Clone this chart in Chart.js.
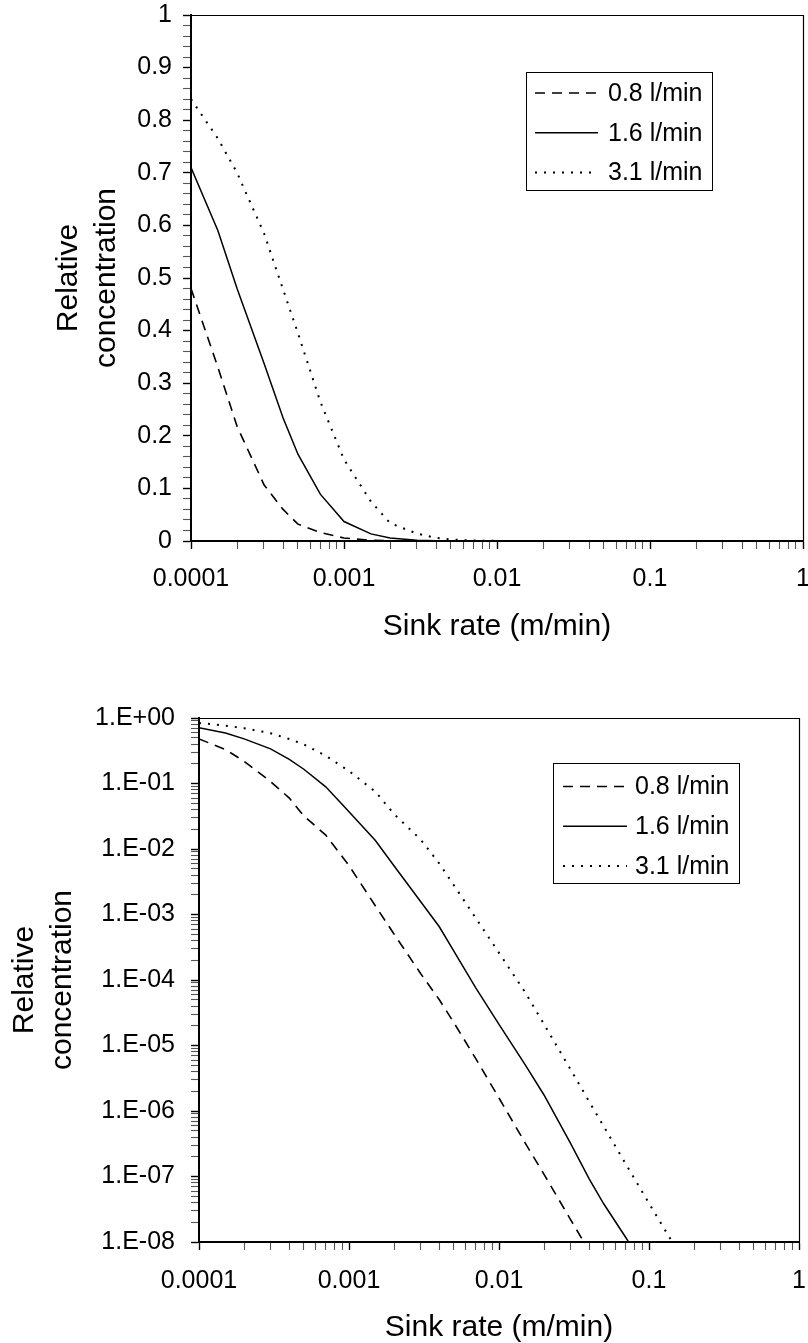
<!DOCTYPE html>
<html><head><meta charset="utf-8">
<script src="https://cdn.jsdelivr.net/npm/chart.js@4.4.0/dist/chart.umd.min.js"></script>
<style>
html,body{margin:0;padding:0;background:#fff;overflow:hidden;width:808px;height:1343px;}
canvas{position:absolute;left:0;}
#c1{top:0;}
#c2{top:660px;}
</style></head><body>
<canvas id="c1" width="808" height="660"></canvas>
<canvas id="c2" width="808" height="683"></canvas>
<script>
// ---------- data ----------
const sinkRate = [0.0001, 0.00015, 0.0002, 0.0003, 0.0004, 0.0005, 0.0007, 0.001, 0.0015, 0.002, 0.003, 0.004, 0.005, 0.007, 0.01, 0.015, 0.02, 0.03, 0.04, 0.05, 0.07, 0.1, 0.15, 0.2];
const conc08 = [0.48, 0.33, 0.218, 0.107, 0.06, 0.032, 0.0163, 0.0056, 1.35e-3, 5.0e-4, 1.26e-4, 5.0e-5, 2.24e-5, 6.3e-6, 1.58e-6, 3.2e-7, 1.07e-7, 2.2e-8, 7.2e-9, 3.2e-9, null, null, null, null];
const conc16 = [0.71, 0.59, 0.48, 0.338, 0.234, 0.165, 0.089, 0.037, 0.0135, 5.5e-3, 1.58e-3, 6.5e-4, 2.75e-4, 7.6e-5, 2.1e-5, 5.0e-6, 1.74e-6, 3.2e-7, 9.1e-8, 3.8e-8, 1.17e-8, 3.2e-9, null, null];
const conc31 = [0.84, 0.765, 0.70, 0.585, 0.478, 0.395, 0.265, 0.155, 0.075, 0.034, 0.014, 0.006, 2.8e-3, 8.8e-4, 2.6e-4, 6.4e-5, 2.1e-5, 4.3e-6, 1.38e-6, 5.8e-7, 1.55e-7, 3.9e-8, 8.3e-9, 2.75e-9];
const seriesLabels = ['0.8 l/min', '1.6 l/min', '3.1 l/min'];

const xMajorTicks = [0.0001, 0.001, 0.01, 0.1, 1];
const xTickLabels = ['0.0001', '0.001', '0.01', '0.1', '1'];
const linYMajorTicks = [0, 0.1, 0.2, 0.3, 0.4, 0.5, 0.6, 0.7, 0.8, 0.9, 1];
const linYTickLabels = ['0', '0.1', '0.2', '0.3', '0.4', '0.5', '0.6', '0.7', '0.8', '0.9', '1'];
const logYMajorTicks = [1e-8, 1e-7, 1e-6, 1e-5, 1e-4, 1e-3, 1e-2, 1e-1, 1];
const logYTickLabels = ['1.E-08', '1.E-07', '1.E-06', '1.E-05', '1.E-04', '1.E-03', '1.E-02', '1.E-01', '1.E+00'];
const xTitle = 'Sink rate (m/min)';
const yTitle = ['Relative', 'concentration'];

// ---------- helpers ----------
const FONT = '"Liberation Sans", Arial, Helvetica, sans-serif';
Chart.defaults.font.family = FONT;
Chart.defaults.color = '#000';

function logTicks(majors) {
  const t = [];
  majors.forEach((m, i) => {
    t.push({value: m, major: true});
    if (i < majors.length - 1) for (let k = 2; k <= 9; k++) t.push({value: m * k, major: false});
  });
  return t;
}
function linTicks(majors, sub) {
  const t = [];
  majors.forEach((m, i) => {
    t.push({value: m, major: true});
    if (i < majors.length - 1) {
      const step = (majors[i + 1] - m) / sub;
      for (let k = 1; k < sub; k++) t.push({value: m + k * step, major: false});
    }
  });
  return t;
}
function labelFor(majors, labels, v, rel) {
  for (let i = 0; i < majors.length; i++) {
    const d = Math.abs(v - majors[i]);
    if (rel ? d <= Math.abs(majors[i]) * 1e-9 : d < 1e-9) return labels[i];
  }
  return '';
}
const gridOpts = {
  display: true, drawOnChartArea: false, drawTicks: true, tickLength: 8,
  tickColor: c => (c.tick && c.tick.major) ? '#000' : '#555',
  tickWidth: c => (c.tick && c.tick.major) ? 1.4 : 1.1
};

const frame = {
  id: 'frame',
  afterDraw(chart) {
    const {ctx, chartArea: a} = chart;
    ctx.save();
    ctx.strokeStyle = '#000'; ctx.lineWidth = 1.2;
    ctx.beginPath();
    ctx.moveTo(a.left, a.top + 0.5); ctx.lineTo(a.right + 0.5, a.top + 0.5); ctx.lineTo(a.right + 0.5, a.bottom);
    ctx.stroke();
    ctx.restore();
  }
};
const boxLegend = {
  id: 'boxLegend',
  afterDraw(chart, args, o) {
    const {ctx, chartArea: a} = chart;
    const x0 = Math.round(a.left + o.dx), y0 = Math.round(a.top + o.dy);
    ctx.save();
    ctx.fillStyle = '#fff'; ctx.fillRect(x0, y0, o.w, o.h);
    ctx.strokeStyle = '#000'; ctx.lineWidth = 1; ctx.strokeRect(x0 + 0.5, y0 + 0.5, o.w, o.h);
    chart.data.datasets.forEach((ds, i) => {
      const y = y0 + o.firstRow + i * o.rowGap;
      ctx.beginPath();
      ctx.setLineDash(ds.borderDash || []);
      ctx.lineWidth = ds.borderWidth; ctx.strokeStyle = ds.borderColor;
      ctx.moveTo(x0 + o.lineStart, y); ctx.lineTo(x0 + o.lineEnd, y); ctx.stroke();
      ctx.setLineDash([]);
      ctx.fillStyle = '#000'; ctx.font = '25px ' + FONT;
      ctx.textBaseline = 'middle'; ctx.textAlign = 'left';
      ctx.fillText(ds.label, x0 + o.textStart, y + 1);
    });
    ctx.restore();
  }
};

function datasets() {
  return [
    {label: seriesLabels[0], data: conc08, borderColor: '#000', borderWidth: 1.6, borderDash: [10, 7], pointRadius: 0, tension: 0, fill: false},
    {label: seriesLabels[1], data: conc16, borderColor: '#000', borderWidth: 1.5, borderDash: [], pointRadius: 0, tension: 0, fill: false},
    {label: seriesLabels[2], data: conc31, borderColor: '#000', borderWidth: 2, borderDash: [2, 7], pointRadius: 0, tension: 0, fill: false}
  ];
}

function xAxis(height, tickPad, titlePadBottom) {
  return {
    type: 'logarithmic', position: 'bottom', min: 0.0001, max: 1,
    afterBuildTicks: s => { s.ticks = logTicks(xMajorTicks); },
    afterFit: s => { s.height = height; s.paddingLeft = 0; s.paddingRight = 0; },
    grid: gridOpts,
    border: {display: true, color: '#000', width: 2},
    ticks: {autoSkip: false, maxRotation: 0, minRotation: 0, padding: tickPad, font: {size: 25}, color: '#000',
      callback: v => labelFor(xMajorTicks, xTickLabels, v, true)},
    title: {display: true, text: xTitle, font: {size: 30, lineHeight: 1}, color: '#000', padding: {top: 0, bottom: titlePadBottom}}
  };
}

// ---------- top chart: linear y ----------
new Chart(document.getElementById('c1'), {
  type: 'line',
  data: {labels: sinkRate, datasets: datasets()},
  options: {
    responsive: false, animation: false, events: [],
    layout: {padding: {top: 15, right: 5, left: 0, bottom: 0}},
    plugins: {legend: {display: false}, tooltip: {enabled: false},
      boxLegend: {dx: 335, dy: 57, w: 186, h: 118, firstRow: 21, rowGap: 39.7, lineStart: 9, lineEnd: 72, textStart: 82}},
    scales: {
      x: xAxis(119, 15, 18),
      y: {
        type: 'linear', position: 'left', min: 0, max: 1,
        afterBuildTicks: s => { s.ticks = linTicks(linYMajorTicks, 5); },
        afterFit: s => { s.width = 191; s.paddingTop = 0; s.paddingBottom = 0; },
        grid: gridOpts,
        border: {display: true, color: '#000', width: 2},
        ticks: {autoSkip: false, padding: 11, font: {size: 25}, color: '#000',
          callback: v => labelFor(linYMajorTicks, linYTickLabels, v, false)},
        title: {display: true, text: yTitle, font: {size: 30, lineHeight: 38 / 30}, color: '#000', padding: {top: 50, bottom: 0}}
      }
    }
  },
  plugins: [frame, boxLegend]
});

// ---------- bottom chart: log y ----------
new Chart(document.getElementById('c2'), {
  type: 'line',
  data: {labels: sinkRate, datasets: datasets()},
  options: {
    responsive: false, animation: false, events: [],
    layout: {padding: {top: 58, right: 9, left: 0, bottom: 0}},
    plugins: {legend: {display: false}, tooltip: {enabled: false},
      boxLegend: {dx: 354, dy: 45, w: 186, h: 120, firstRow: 23.5, rowGap: 39.7, lineStart: 10, lineEnd: 74, textStart: 82}},
    scales: {
      x: xAxis(101, 16, 0),
      y: {
        type: 'logarithmic', position: 'left', min: 1e-8, max: 1,
        afterBuildTicks: s => { s.ticks = logTicks(logYMajorTicks); },
        afterFit: s => { s.width = 199; s.paddingTop = 0; s.paddingBottom = 0; },
        grid: gridOpts,
        border: {display: true, color: '#000', width: 2},
        ticks: {autoSkip: false, padding: 16, font: {size: 25}, color: '#000',
          callback: v => labelFor(logYMajorTicks, logYTickLabels, v, true)},
        title: {display: true, text: yTitle, font: {size: 30, lineHeight: 38 / 30}, color: '#000', padding: {top: 6, bottom: 0}}
      }
    }
  },
  plugins: [frame, boxLegend]
});
</script>
</body></html>
